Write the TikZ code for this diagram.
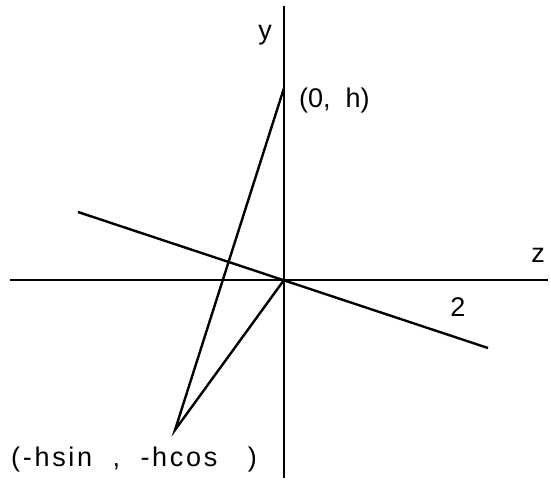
\documentclass[tikz,border=0pt]{standalone}
\usepackage{fontspec}
\setmainfont{Liberation Sans}
\usetikzlibrary{calc}

\begin{document}
\begin{tikzpicture}[x=1pt, y=-1pt, line width=2.4pt]
    \tikzset{axisLabel/.style={font=\fontsize{27}{32}\selectfont, inner sep=0pt}}
    \useasboundingbox (0,0) rectangle (551,483);

    \coordinate (O) at (284,280); % origin
    \coordinate (H) at (284,88);
    \coordinate (P) at (175,430);
    \coordinate (L) at (78,212);
    \coordinate (R) at (488,348);

    % Draw axes
    \coordinate (yTop) at (284,6);
    \coordinate (yBot) at (284,478);
    \coordinate (zLeft) at (10,280);
    \coordinate (zRight) at (548,280);
    \draw (yBot) -- (yTop);
    \draw (zLeft) -- (zRight);

    % Axis labels
    \node[axisLabel] (yLab) at (265,35) {y};
    \node[axisLabel] (zLab) at (538,255) {z};
    \node[axisLabel] (twoLab) at (458,307) {2};

    % Tilted line through the origin
    \draw (L) -- (R);

    % Triangle
    \draw (H) -- (P) -- (O);

    % Point labels
    \node[axisLabel, anchor=west] (hLab) at (298,101) {(0,\ \ h)};
    \node[axisLabel, anchor=west] (pLab) at (10,460)
        {\addfontfeature{LetterSpace=10}(-hsin\ \ ,\ \ -hcos\ \ \ )};
\end{tikzpicture}
\end{document}
